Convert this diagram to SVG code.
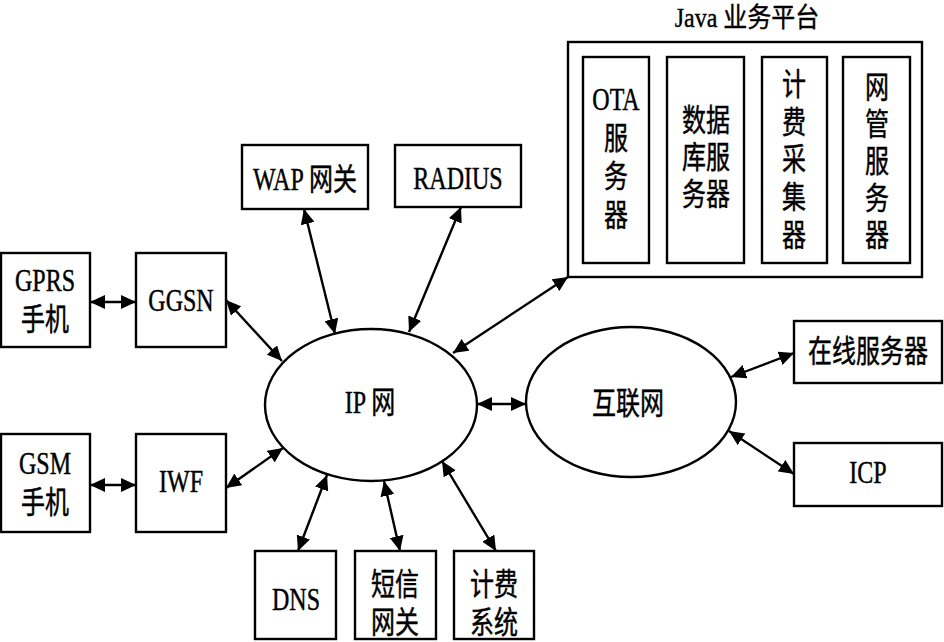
<svg xmlns="http://www.w3.org/2000/svg" width="944" height="642" viewBox="0 0 944 642">
<defs>
<marker id="ah" viewBox="0 0 15 14" refX="15" refY="7" markerWidth="15" markerHeight="14" markerUnits="userSpaceOnUse" orient="auto-start-reverse">
<path d="M0,0 L15,7 L0,14 z" fill="#000"/>
</marker>
</defs>
<style>
.n rect, .n ellipse { fill: #fff; stroke: #000; stroke-width: 2.4; }
.c line { stroke: #000; stroke-width: 2.4; marker-start: url(#ah); marker-end: url(#ah); }
.n text { font-size: 24px; text-anchor: middle; fill: #000; stroke: #000; stroke-width: 0.35; }
</style>
<rect width="944" height="642" fill="#fff"/>

<g class="n" font-family="'Liberation Serif', 'Times New Roman', 'Noto Sans CJK SC', serif">
<g id="java">
<text transform="translate(747,27) scale(1,1.12)">Java 业务平台</text>
<rect x="568" y="42" width="354" height="235"/>
</g>
<g id="ota">
<rect x="583" y="57" width="66" height="206"/>
<text transform="translate(616,110) scale(1,1.3)"><tspan x="0" y="0">OTA</tspan><tspan x="0" dy="29.8">服</tspan><tspan x="0" dy="29.8">务</tspan><tspan x="0" dy="29.8">器</tspan></text>
</g>
<g id="db">
<rect x="667" y="57" width="77" height="206"/>
<text transform="translate(706,131) scale(1,1.3)"><tspan x="0" y="0">数据</tspan><tspan x="0" dy="28.5">库服</tspan><tspan x="0" dy="28.5">务器</tspan></text>
</g>
<g id="billing-collector">
<rect x="762" y="57" width="65" height="206"/>
<text transform="translate(794,95) scale(1,1.3)"><tspan x="0" y="0">计</tspan><tspan x="0" dy="29">费</tspan><tspan x="0" dy="29">采</tspan><tspan x="0" dy="29">集</tspan><tspan x="0" dy="29">器</tspan></text>
</g>
<g id="nms">
<rect x="843" y="57" width="67" height="206"/>
<text transform="translate(877,98) scale(1,1.3)"><tspan x="0" y="0">网</tspan><tspan x="0" dy="28.5">管</tspan><tspan x="0" dy="28.5">服</tspan><tspan x="0" dy="28.5">务</tspan><tspan x="0" dy="28.5">器</tspan></text>
</g>

<g id="wap">
<rect x="242" y="145" width="126" height="64"/>
<text transform="translate(305,190) scale(1,1.3)">WAP 网关</text>
</g>
<g id="radius">
<rect x="395" y="145" width="126" height="62"/>
<text transform="translate(458,189) scale(1,1.3)">RADIUS</text>
</g>
<g id="gprs">
<rect x="1" y="253" width="89" height="94"/>
<text transform="translate(45,291) scale(1,1.3)"><tspan x="0" y="0">GPRS</tspan><tspan x="0" dy="30">手机</tspan></text>
</g>
<g id="ggsn">
<rect x="136" y="253" width="90" height="94"/>
<text transform="translate(181,311) scale(1,1.3)">GGSN</text>
</g>
<g id="gsm">
<rect x="1" y="434" width="89" height="98"/>
<text transform="translate(45,474) scale(1,1.3)"><tspan x="0" y="0">GSM</tspan><tspan x="0" dy="30">手机</tspan></text>
</g>
<g id="iwf">
<rect x="136" y="434" width="90" height="98"/>
<text transform="translate(181,492) scale(1,1.3)">IWF</text>
</g>
<g id="ipnet">
<ellipse cx="371" cy="405" rx="106" ry="76"/>
<text transform="translate(370,413) scale(1,1.3)">IP 网</text>
</g>
<g id="internet">
<ellipse cx="631" cy="402" rx="105" ry="75"/>
<text transform="translate(628,414) scale(1,1.3)">互联网</text>
</g>
<g id="online">
<rect x="794" y="321" width="148" height="62"/>
<text transform="translate(868,362) scale(1,1.3)">在线服务器</text>
</g>
<g id="icp">
<rect x="794" y="443" width="148" height="63"/>
<text transform="translate(868,483) scale(1,1.3)">ICP</text>
</g>
<g id="dns">
<rect x="255" y="551" width="81" height="88"/>
<text transform="translate(296,610) scale(1,1.3)">DNS</text>
</g>
<g id="sms">
<rect x="355" y="551" width="81" height="88"/>
<text transform="translate(395,595) scale(1,1.3)"><tspan x="0" y="0">短信</tspan><tspan x="0" dy="29.2">网关</tspan></text>
</g>
<g id="billing">
<rect x="454" y="551" width="80" height="88"/>
<text transform="translate(494,595) scale(1,1.3)"><tspan x="0" y="0">计费</tspan><tspan x="0" dy="29.2">系统</tspan></text>
</g>
</g>

<g id="connectors" class="c">
<line x1="90" y1="302" x2="136" y2="302"/>
<line x1="90" y1="485" x2="136" y2="485"/>
<line x1="226" y1="300" x2="282" y2="361"/>
<line x1="226" y1="488" x2="283" y2="448"/>
<line x1="304" y1="209" x2="335" y2="334"/>
<line x1="461" y1="207" x2="409" y2="332"/>
<line x1="568" y1="277" x2="453" y2="353"/>
<line x1="477" y1="404" x2="526" y2="404"/>
<line x1="731" y1="377" x2="794" y2="353"/>
<line x1="729" y1="431" x2="794" y2="474"/>
<line x1="298" y1="551" x2="327" y2="475"/>
<line x1="400" y1="551" x2="384" y2="481"/>
<line x1="496" y1="551" x2="442" y2="461"/>
</g>
</svg>
